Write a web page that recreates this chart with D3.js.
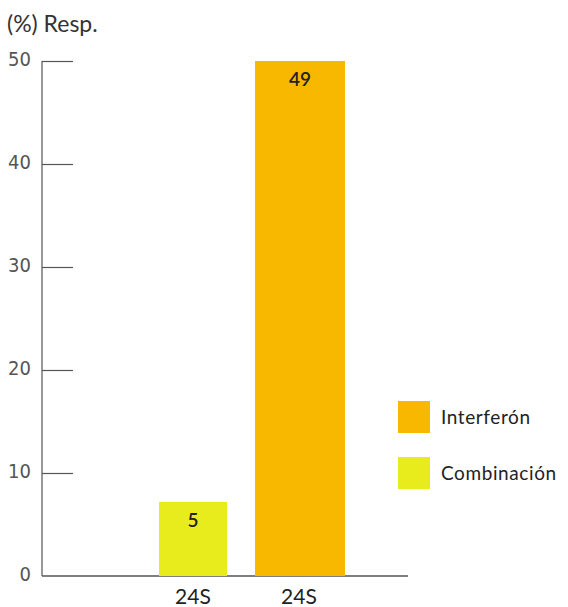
<!DOCTYPE html>
<html><head><meta charset="utf-8">
<script src="https://cdn.jsdelivr.net/npm/d3@7"></script>
<style>body{margin:0;background:#fff}</style>
</head><body>
<script>
const categories = ["24S", "24S"];
const series = ["Combinación", "Interferón"];
const values = [7.2, 50];
const labels = ["5", "49"];
const colors = ["#E9EC1C", "#F8B800"];
const yTicks = [0, 10, 20, 30, 40, 50];
const legendOrder = ["Interferón", "Combinación"];

const W = 568, H = 607;
const svg = d3.select("body").append("svg").attr("width", W).attr("height", H);
const y = d3.scaleLinear().domain([0, 50]).range([576, 61]);
const axisX = 42;
const tickFont = "'Liberation Sans Narrow','DejaVu Sans Condensed','Arial Narrow',sans-serif";
const textFont = "'Lato','Open Sans',sans-serif";

// y axis
const yAxis = d3.axisRight(y).tickValues(yTicks).tickSize(31).tickFormat("");
const ga = svg.append("g").attr("transform", `translate(${axisX},0)`).call(yAxis);
ga.select(".domain").remove();
ga.selectAll(".tick line").attr("stroke", "#555").attr("stroke-width", 1.2);
ga.selectAll(".tick").filter(d => d === 0).remove();
svg.append("line").attr("x1", axisX).attr("x2", axisX).attr("y1", y(50)).attr("y2", y(0))
  .attr("stroke", "#555").attr("stroke-width", 1.2);
svg.append("line").attr("x1", axisX).attr("x2", 408).attr("y1", y(0)).attr("y2", y(0))
  .attr("stroke", "#555").attr("stroke-width", 1.4);

svg.selectAll("text.yt").data(yTicks).enter().append("text")
  .attr("x", 31).attr("y", d => y(d) - 2).attr("dy", "0.35em")
  .attr("text-anchor", "end").attr("font-family", tickFont).attr("font-size", 20)
  .attr("font-stretch", "condensed")
  .attr("fill", "#555").text(d => d);

svg.append("text").attr("x", 7).attr("y", 32).attr("font-family", textFont)
  .attr("font-size", 23).attr("fill", "#333").text("(%) Resp.");

// bars
const xs = [159, 255], ws = [68, 90];
svg.selectAll("rect.bar").data(values).enter().append("rect")
  .attr("x", (d, i) => xs[i]).attr("width", (d, i) => ws[i])
  .attr("y", d => y(d)).attr("height", d => y(0) - y(d))
  .attr("fill", (d, i) => colors[i]);

svg.selectAll("text.bl").data(values).enter().append("text")
  .attr("x", (d, i) => xs[i] + ws[i] / 2).attr("y", d => y(d) + 25)
  .attr("text-anchor", "middle").attr("font-family", textFont).attr("font-weight", 600)
  .attr("font-size", 19).attr("fill", "#222").text((d, i) => labels[i]);

svg.selectAll("text.xl").data(categories).enter().append("text")
  .attr("x", (d, i) => xs[i] + ws[i] / 2 + (i === 0 ? 0 : -1)).attr("y", 604)
  .attr("text-anchor", "middle").attr("font-family", textFont)
  .attr("font-size", 21).attr("fill", "#222").text(d => d);

// legend
const lg = svg.append("g");
legendOrder.forEach((name, i) => {
  const idx = series.indexOf(name);
  const yy = 401 + i * 56;
  lg.append("rect").attr("x", 398).attr("y", yy).attr("width", 32).attr("height", 32).attr("fill", colors[idx]);
  lg.append("text").attr("x", 441).attr("y", yy + 16).attr("dy", "0.35em")
    .attr("font-family", textFont).attr("font-size", 19).attr("letter-spacing", 0.6)
    .attr("fill", "#222").text(name);
});
</script>
</body></html>
